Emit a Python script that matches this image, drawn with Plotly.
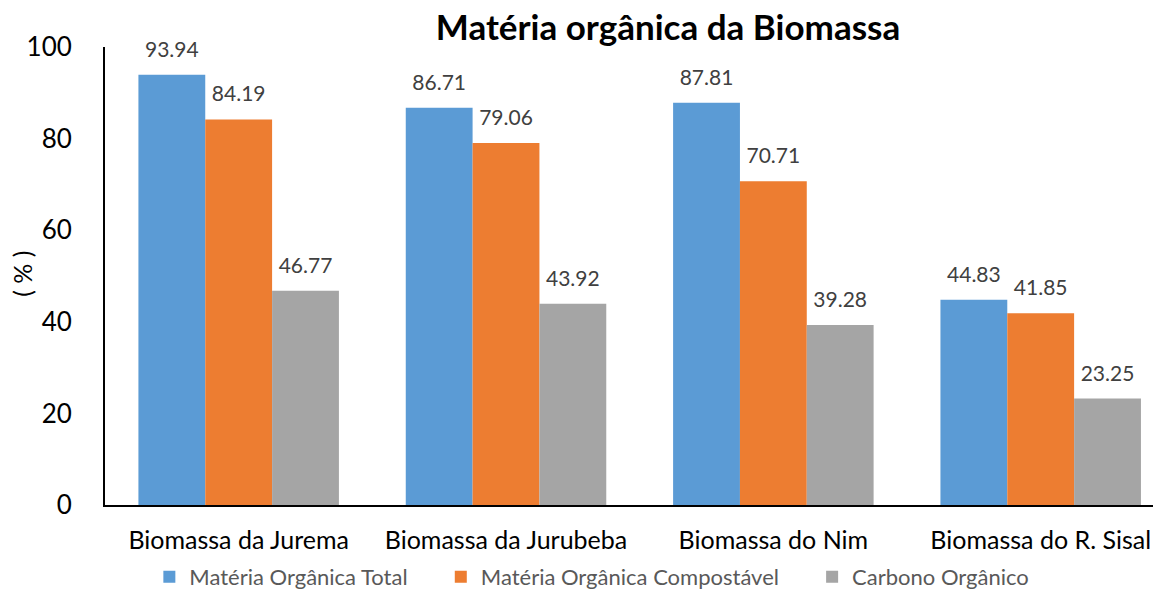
import plotly.graph_objects as go

categorias = ["Biomassa da Jurema", "Biomassa da Jurubeba", "Biomassa do Nim", "Biomassa do R. Sisal"]
mo_total = [93.94, 86.71, 87.81, 44.83]
mo_compostavel = [84.19, 79.06, 70.71, 41.85]
carbono = [46.77, 43.92, 39.28, 23.25]

nbsp = "\u00a0" * 5
series = [
    ("Matéria Orgânica Total" + nbsp, mo_total, "#5B9BD5"),
    ("Matéria Orgânica Compostável" + nbsp, mo_compostavel, "#ED7D31"),
    ("Carbono Orgânico", carbono, "#A5A5A5"),
]

fig = go.Figure()
for nome, valores, cor in series:
    fig.add_trace(go.Bar(
        x=categorias,
        y=valores,
        name=nome,
        marker=dict(color=cor, line=dict(width=0)),
        text=[f"{v:.2f}" for v in valores],
        # valor grande + linha vazia pequena para afastar o rótulo da barra
        texttemplate="<span style='font-size:21px'>%{text}</span><br> ",
        textposition="outside",
        textfont=dict(family="Lato", size=10, color="#404040"),
        cliponaxis=False,
    ))

fig.update_layout(
    title=dict(text="<b>Matéria orgânica da Biomassa</b>", x=0.5685, xanchor="center",
               y=0.966, yanchor="middle",
               font=dict(family="Lato", size=35, color="black")),
    width=1161,
    height=591,
    margin=dict(l=97, r=8, t=39, b=94, autoexpand=False),
    plot_bgcolor="white",
    paper_bgcolor="white",
    barmode="group",
    bargap=0.25,
    bargroupgap=0,
    showlegend=True,
    legend=dict(orientation="h", x=0.042, xanchor="left", y=-0.157, yanchor="middle",
                font=dict(family="Lato", size=22, color="#595959"),
                itemsizing="constant", traceorder="normal", itemwidth=30),
    font=dict(family="Lato"),
    annotations=[dict(text="( % )", xref="paper", yref="paper", x=-0.078, y=0.504,
                      xanchor="center", yanchor="middle",
                      textangle=-90, showarrow=False,
                      font=dict(family="Lato", size=25, color="black"))],
)
fig.update_xaxes(
    range=[-0.5, 3.45], automargin=False,
    showline=True, linecolor="black", linewidth=2,
    showgrid=False, ticks="",
    tickfont=dict(family="Lato", size=25, color="black"),
    ticklabelstandoff=12,
)
fig.update_yaxes(
    range=[0, 100], dtick=20, automargin=False,
    showline=True, linecolor="black", linewidth=2,
    showgrid=False, ticks="", zeroline=False,
    tickfont=dict(family="Lato", size=26, color="black"),
    ticklabelstandoff=26,
)

fig.write_html("out.html")
